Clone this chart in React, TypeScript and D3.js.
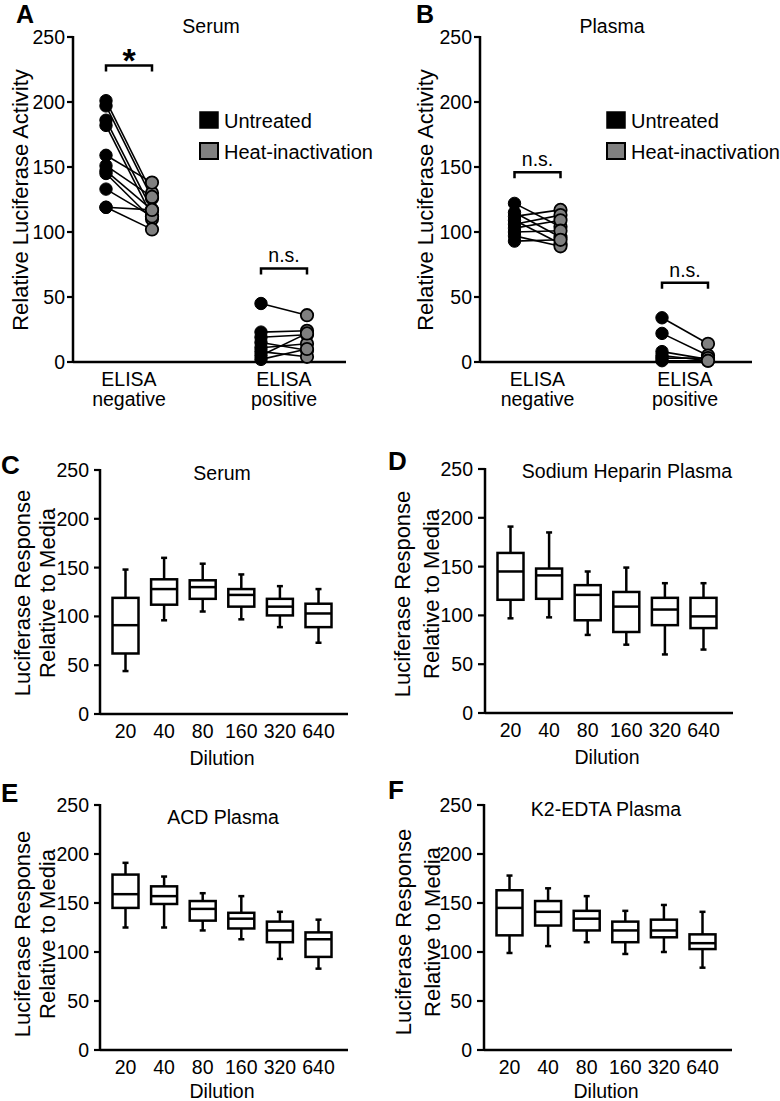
import React from "react";
import * as d3 from "d3";

const FONT = '"Liberation Sans", Arial, Helvetica, sans-serif';

// ---------- Data: panels A & B (paired points) ----------
const pairCategories = ["ELISA negative", "ELISA positive"];
const treatments = ["Untreated", "Heat-inactivation"];
const yTicks = [0, 50, 100, 150, 200, 250];

const serumNegUntreated = [201, 197, 186, 182, 159, 151, 147, 145, 133, 119, 119];
const serumNegHeat = [130, 126, 117, 112, 138, 127, 117, 110, 112, 117, 102];
const serumPosUntreated = [45, 23, 19, 15, 11, 8, 5, 2];
const serumPosHeat = [36, 24, 21, 9, 14, 4, 22, 10];
const serumBrackets = [228, 72];
const serumBracketLabels = ["*", "n.s."];

const plasmaNegUntreated = [122, 115, 112, 109, 106, 103, 100, 97, 93];
const plasmaNegHeat = [104, 96, 117, 91, 113, 109, 101, 89, 94];
const plasmaPosUntreated = [34, 22, 8, 5, 3, 1];
const plasmaPosHeat = [14, 5, 2, 1, 3, 1];
const plasmaBrackets = [146, 61];
const plasmaBracketLabels = ["n.s.", "n.s."];

// ---------- Data: panels C-F (box plots: [min, q1, median, q3, max]) ----------
const dilutions = ["20", "40", "80", "160", "320", "640"];
const serumBoxes = [
  [44, 62, 91, 119, 148],
  [96, 112, 128, 138, 160],
  [105, 118, 130, 137, 154],
  [97, 110, 122, 128, 143],
  [89, 101, 110, 118, 131],
  [73, 89, 103, 113, 128],
];
const heparinBoxes = [
  [97, 116, 145, 164, 191],
  [98, 117, 141, 148, 185],
  [80, 95, 121, 131, 145],
  [70, 83, 109, 124, 149],
  [60, 90, 106, 118, 133],
  [65, 87, 99, 118, 133],
];
const acdBoxes = [
  [125, 145, 159, 179, 191],
  [125, 149, 157, 167, 177],
  [122, 132, 144, 152, 160],
  [113, 124, 134, 140, 157],
  [93, 110, 122, 131, 141],
  [83, 95, 113, 120, 133],
];
const edtaBoxes = [
  [99, 117, 145, 163, 178],
  [106, 127, 141, 152, 165],
  [110, 122, 134, 142, 157],
  [98, 110, 122, 131, 142],
  [100, 115, 122, 133, 148],
  [84, 103, 109, 118, 141],
];

const GRAY = "#808080";

function YAxis({ x, y, gap, tickLen }: any) {
  return (
    <g>
      <line x1={x} x2={x} y1={y(250) - 1} y2={y(0)} stroke="#000" strokeWidth={2.5} />
      {yTicks.map((t) => (
        <g key={t}>
          <line x1={x - tickLen} x2={x} y1={y(t)} y2={y(t)} stroke="#000" strokeWidth={2.2} />
          <text x={x - gap} y={y(t)} dy="0.36em" textAnchor="end" fontSize={19.5}>
            {t}
          </text>
        </g>
      ))}
    </g>
  );
}

function PairedPanel({ cfg, groups, brackets, bracketLabels }: any) {
  const y = d3.scaleLinear().domain([0, 250]).range([cfg.y0, cfg.y250]);
  const xc = d3.scalePoint().domain(pairCategories).range(cfg.catRange);
  const xt = d3.scalePoint().domain(treatments).range([-23, 23]);
  return (
    <g>
      <text x={cfg.letterX} y={23} fontSize={25} fontWeight="bold">{cfg.letter}</text>
      <text x={cfg.titleX} y={33} fontSize={19.5} textAnchor="middle">{cfg.title}</text>
      <text
        transform={`translate(${cfg.yTitleX},200) rotate(-90)`}
        textAnchor="middle"
        fontSize={22}
      >
        Relative Luciferase Activity
      </text>
      <YAxis x={cfg.axisX} y={y} gap={8} tickLen={6} />
      <line x1={cfg.axisX} x2={cfg.xEnd} y1={y(0)} y2={y(0)} stroke="#000" strokeWidth={2.5} />
      {pairCategories.map((c, gi) => {
        const cx = xc(c)!;
        const [u, h] = groups[gi];
        const xu = cx + xt("Untreated")!;
        const xh = cx + xt("Heat-inactivation")!;
        const [l1, l2] = c.split(" ");
        const yb = y(brackets[gi]);
        const lab = bracketLabels[gi];
        return (
          <g key={c}>
            {u.map((v: number, i: number) => (
              <line key={"l" + i} x1={xu} y1={y(v)} x2={xh} y2={y(h[i])} stroke="#000" strokeWidth={1.6} />
            ))}
            {u.map((v: number, i: number) => (
              <circle key={"u" + i} cx={xu} cy={y(v)} r={6.2} fill="#000" stroke="#000" strokeWidth={1} />
            ))}
            {h.map((v: number, i: number) => (
              <circle key={"h" + i} cx={xh} cy={y(v)} r={6.2} fill={GRAY} stroke="#000" strokeWidth={1.8} />
            ))}
            <path
              d={`M${xu},${yb + 6}V${yb}H${xh}V${yb + 6}`}
              fill="none"
              stroke="#000"
              strokeWidth={2.5}
            />
            {lab === "*" ? (
              <text x={cx} y={yb + 6} textAnchor="middle" fontSize={34} fontWeight="bold">*</text>
            ) : (
              <text x={cx} y={yb - 6} textAnchor="middle" fontSize={19.5}>{lab}</text>
            )}
            <text x={cx} y={386} textAnchor="middle" fontSize={19.5}>{l1}</text>
            <text x={cx} y={406} textAnchor="middle" fontSize={19.5}>{l2}</text>
          </g>
        );
      })}
      <rect x={cfg.legendX} y={112} width={18} height={16} fill="#000" stroke="#000" strokeWidth={1.5} />
      <rect x={cfg.legendX} y={143} width={18} height={16} fill={GRAY} stroke="#000" strokeWidth={2} />
      <text x={cfg.legendX + 24} y={128} fontSize={20}>{treatments[0]}</text>
      <text x={cfg.legendX + 24} y={159} fontSize={20}>{treatments[1]}</text>
    </g>
  );
}

function BoxPanel({ cfg, boxes }: any) {
  const y = d3.scaleLinear().domain([0, 250]).range([cfg.y0, cfg.y250]);
  const x = d3.scalePoint().domain(dilutions).range([cfg.axisX + 25.5, cfg.axisX + 218.5]);
  const bw = 26;
  const cap = 3;
  const mid = (x(dilutions[0])! + x(dilutions[dilutions.length - 1])!) / 2;
  return (
    <g>
      <text x={cfg.letterX} y={cfg.letterY} fontSize={26} fontWeight="bold">{cfg.letter}</text>
      <text x={cfg.titleX} y={cfg.titleY} fontSize={19.5} textAnchor="middle">{cfg.title}</text>
      <text transform={`translate(${cfg.yt1},${cfg.ytY}) rotate(-90)`} textAnchor="middle" fontSize={22}>
        Luciferase Response
      </text>
      <text transform={`translate(${cfg.yt2},${cfg.ytY}) rotate(-90)`} textAnchor="middle" fontSize={22}>
        Relative to Media
      </text>
      <YAxis x={cfg.axisX} y={y} gap={cfg.gap} tickLen={cfg.tickLen} />
      <line x1={cfg.axisX} x2={cfg.axisX + 248} y1={y(0)} y2={y(0)} stroke="#000" strokeWidth={2.5} />
      {dilutions.map((d, i) => {
        const [mn, q1, md, q3, mx] = boxes[i];
        const cx = x(d)!;
        return (
          <g key={d} stroke="#000" strokeWidth={2.5} fill="none">
            <line x1={cx} x2={cx} y1={y(mx)} y2={y(q3)} />
            <line x1={cx} x2={cx} y1={y(q1)} y2={y(mn)} />
            <line x1={cx - cap} x2={cx + cap} y1={y(mx)} y2={y(mx)} />
            <line x1={cx - cap} x2={cx + cap} y1={y(mn)} y2={y(mn)} />
            <rect x={cx - bw / 2} y={y(q3)} width={bw} height={y(q1) - y(q3)} fill="#fff" />
            <line x1={cx - bw / 2} x2={cx + bw / 2} y1={y(md)} y2={y(md)} />
          </g>
        );
      })}
      {dilutions.map((d) => (
        <text key={d} x={x(d)!} y={y(0) + 24} textAnchor="middle" fontSize={19.5}>{d}</text>
      ))}
      <text x={mid} y={y(0) + cfg.dilDy} textAnchor="middle" fontSize={19.5}>Dilution</text>
    </g>
  );
}

export default function App() {
  const A = {
    letter: "A", letterX: 16, title: "Serum", titleX: 211, yTitleX: 28,
    axisX: 73, xEnd: 346, y0: 362, y250: 37, catRange: [129, 284], legendX: 200,
  };
  const B = {
    letter: "B", letterX: 416, title: "Plasma", titleX: 612, yTitleX: 433,
    axisX: 480, xEnd: 752, y0: 362, y250: 37, catRange: [537.5, 685], legendX: 607,
  };
  const C = {
    letter: "C", letterX: 1, letterY: 474, title: "Serum", titleX: 222, titleY: 480,
    axisX: 100, y0: 714, y250: 470, yt1: 30, yt2: 55, ytY: 593, gap: 11, tickLen: 6, dilDy: 51,
  };
  const D = {
    letter: "D", letterX: 388, letterY: 470, title: "Sodium Heparin Plasma", titleX: 627, titleY: 478,
    axisX: 485, y0: 713, y250: 469, yt1: 410, yt2: 439, ytY: 594, gap: 12, tickLen: 7, dilDy: 51,
  };
  const E = {
    letter: "E", letterX: 1, letterY: 802, title: "ACD Plasma", titleX: 223, titleY: 824,
    axisX: 100, y0: 1050, y250: 805, yt1: 30, yt2: 55, ytY: 934, gap: 11, tickLen: 6, dilDy: 48,
  };
  const F = {
    letter: "F", letterX: 388, letterY: 799, title: "K2-EDTA Plasma", titleX: 606, titleY: 816,
    axisX: 484, y0: 1050, y250: 805, yt1: 411, yt2: 440, ytY: 932, gap: 12, tickLen: 7, dilDy: 48,
  };
  return (
    <svg
      width={780}
      height={1101}
      style={{ position: "absolute", left: 0, top: 0, background: "#fff" }}
      fontFamily={FONT}
    >
      <rect width={780} height={1101} fill="#fff" />
      <PairedPanel
        cfg={A}
        groups={[[serumNegUntreated, serumNegHeat], [serumPosUntreated, serumPosHeat]]}
        brackets={serumBrackets}
        bracketLabels={serumBracketLabels}
      />
      <PairedPanel
        cfg={B}
        groups={[[plasmaNegUntreated, plasmaNegHeat], [plasmaPosUntreated, plasmaPosHeat]]}
        brackets={plasmaBrackets}
        bracketLabels={plasmaBracketLabels}
      />
      <BoxPanel cfg={C} boxes={serumBoxes} />
      <BoxPanel cfg={D} boxes={heparinBoxes} />
      <BoxPanel cfg={E} boxes={acdBoxes} />
      <BoxPanel cfg={F} boxes={edtaBoxes} />
    </svg>
  );
}
